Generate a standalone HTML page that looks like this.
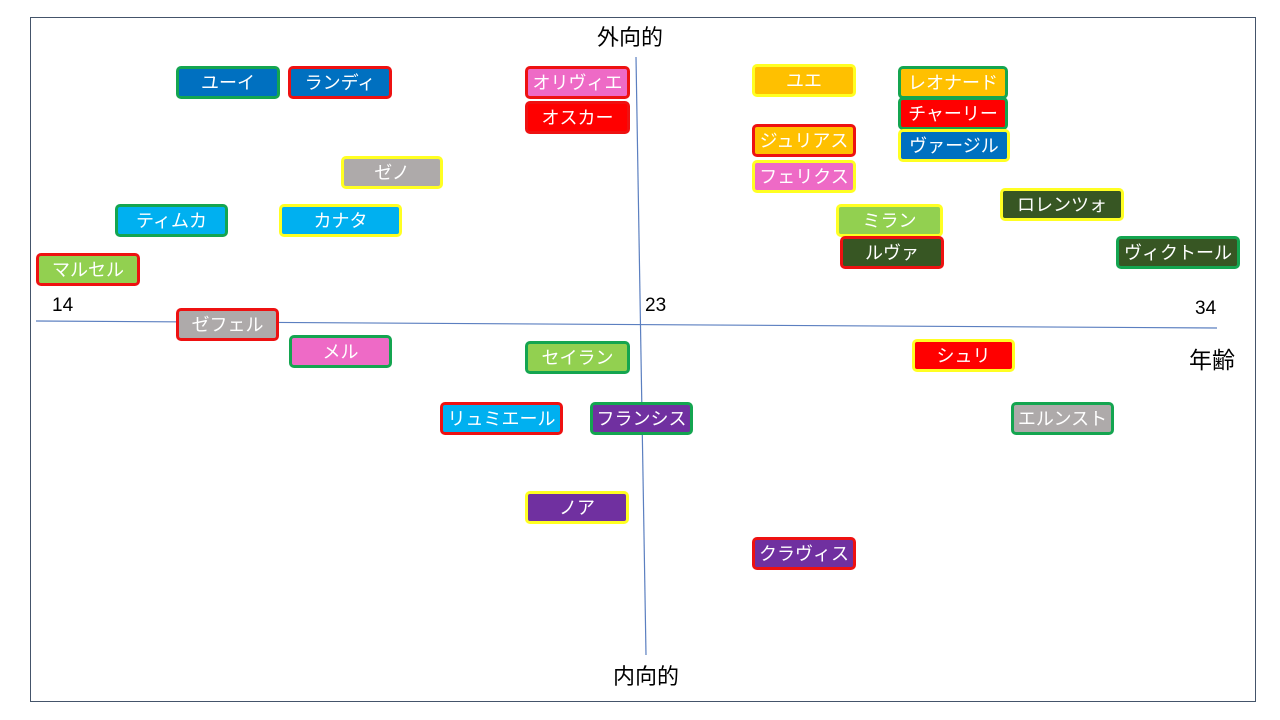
<!DOCTYPE html>
<html><head><meta charset="utf-8">
<style>
html,body{margin:0;padding:0;background:#fff;}
#c{position:relative;width:1280px;height:720px;overflow:hidden;font-family:"Liberation Sans","Noto Sans CJK JP",sans-serif;}
.b{position:absolute;box-sizing:border-box;border:3px solid;border-radius:5px;color:#fff;font-size:18px;display:flex;align-items:center;justify-content:center;height:33px;line-height:1;}
.t{position:absolute;color:#000;font-size:20px;line-height:1;}
.g{border-color:#14A550}.r{border-color:#EE1111}.y{border-color:#FFFF22}
</style></head><body><div id="c">
<svg width="1280" height="720" style="position:absolute;left:0;top:0">
<rect x="30.5" y="17.5" width="1225" height="684" fill="none" stroke="#44546A" stroke-width="1"/>
<line x1="36" y1="321" x2="1217" y2="328" stroke="#5B7FC0" stroke-width="1.2"/>
<line x1="636" y1="57" x2="646" y2="655" stroke="#5B7FC0" stroke-width="1.2"/>
</svg>
<div class="t" style="left:597px;top:27px;font-size:22px">外向的</div>
<div class="t" style="left:613px;top:666px;font-size:22px">内向的</div>
<div class="t" style="left:52px;top:296px;font-size:19px">14</div>
<div class="t" style="left:645px;top:296px;font-size:19px">23</div>
<div class="t" style="left:1195px;top:299px;font-size:19px">34</div>
<div class="t" style="left:1189px;top:349px;font-size:23px">年齢</div>

<div class="b g" style="left:176px;top:66px;width:104px;background:#0070C0">ユーイ</div>
<div class="b r" style="left:288px;top:66px;width:104px;background:#0070C0">ランディ</div>
<div class="b r" style="left:525px;top:66px;width:105px;background:#EE6AC6">オリヴィエ</div>
<div class="b r" style="left:525px;top:101px;width:105px;background:#FF0000">オスカー</div>
<div class="b y" style="left:341px;top:156px;width:102px;background:#AEAAAA">ゼノ</div>
<div class="b g" style="left:115px;top:204px;width:113px;background:#00B0F0">ティムカ</div>
<div class="b y" style="left:279px;top:204px;width:123px;background:#00B0F0">カナタ</div>
<div class="b r" style="left:36px;top:253px;width:104px;background:#92D050">マルセル</div>
<div class="b r" style="left:176px;top:308px;width:103px;background:#AEAAAA">ゼフェル</div>
<div class="b g" style="left:289px;top:335px;width:103px;background:#EE6AC6">メル</div>
<div class="b g" style="left:525px;top:341px;width:105px;background:#92D050">セイラン</div>
<div class="b r" style="left:440px;top:402px;width:123px;background:#00B0F0">リュミエール</div>
<div class="b g" style="left:590px;top:402px;width:103px;background:#7030A0">フランシス</div>
<div class="b y" style="left:525px;top:491px;width:104px;background:#7030A0">ノア</div>
<div class="b r" style="left:752px;top:537px;width:104px;background:#7030A0">クラヴィス</div>
<div class="b y" style="left:752px;top:64px;width:104px;background:#FFC000">ユエ</div>
<div class="b r" style="left:752px;top:124px;width:104px;background:#FFC000">ジュリアス</div>
<div class="b y" style="left:752px;top:160px;width:104px;background:#EE6AC6">フェリクス</div>
<div class="b g" style="left:898px;top:66px;width:110px;background:#FFC000">レオナード</div>
<div class="b g" style="left:898px;top:97px;width:110px;background:#FF0000">チャーリー</div>
<div class="b y" style="left:898px;top:129px;width:112px;background:#0070C0">ヴァージル</div>
<div class="b y" style="left:836px;top:204px;width:107px;background:#92D050">ミラン</div>
<div class="b r" style="left:840px;top:236px;width:104px;background:#375623">ルヴァ</div>
<div class="b y" style="left:1000px;top:188px;width:124px;background:#375623">ロレンツォ</div>
<div class="b g" style="left:1116px;top:236px;width:124px;background:#375623">ヴィクトール</div>
<div class="b y" style="left:912px;top:339px;width:103px;background:#FF0000">シュリ</div>
<div class="b g" style="left:1011px;top:402px;width:103px;background:#AEAAAA">エルンスト</div>
</div></body></html>
